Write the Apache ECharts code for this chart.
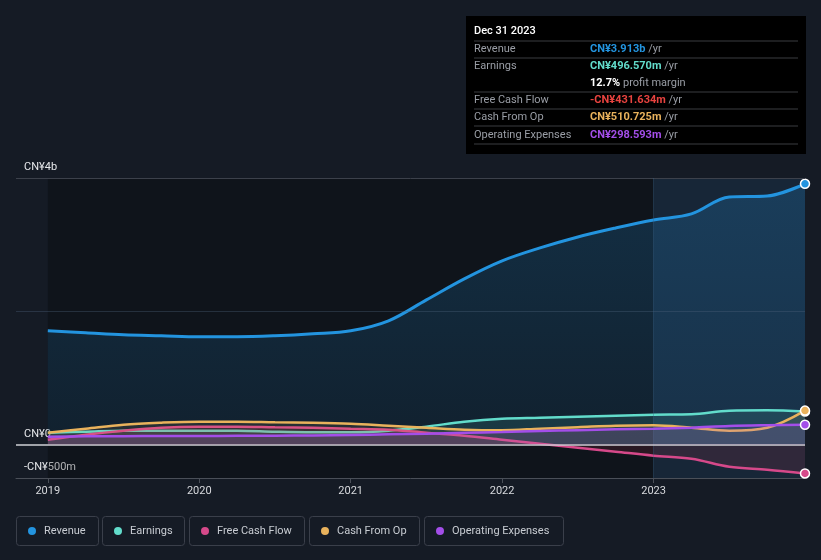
<!DOCTYPE html>
<html>
<head>
<meta charset="utf-8">
<script src="https://cdn.jsdelivr.net/npm/echarts@6/dist/echarts.min.js"></script>
<style>
html,body{margin:0;padding:0;background:#151b25;}
#c{width:821px;height:560px;}
</style>
</head>
<body>
<div id="c"></div>
<script>
const periods = [2019, 2019.25, 2019.5, 2019.75, 2020, 2020.25, 2020.5, 2020.75, 2021, 2021.25, 2021.5, 2021.75, 2022, 2022.25, 2022.5, 2022.75, 2023, 2023.25, 2023.5, 2023.75, 2024];
const revenue = [1708, 1678, 1648, 1633, 1618, 1618, 1633, 1663, 1708, 1858, 2172, 2487, 2757, 2951, 3116, 3251, 3371, 3461, 3715, 3730, 3913];
const earnings = [180, 195, 210, 210, 210, 210, 195, 187, 187, 210, 270, 345, 390, 405, 420, 435, 450, 457, 510, 517, 497];
const freeCashFlow = [75, 150, 210, 255, 270, 270, 262, 255, 240, 225, 180, 135, 75, 15, -45, -105, -165, -210, -330, -375, -432];
const cashFromOp = [180, 240, 300, 330, 345, 345, 337, 330, 315, 285, 255, 225, 217, 240, 262, 285, 292, 255, 210, 255, 511];
const opex = [120, 125, 128, 130, 130, 132, 135, 138, 145, 155, 165, 178, 190, 205, 218, 230, 240, 255, 280, 292, 299];
const yearTicks = [2019, 2020, 2021, 2022, 2023];
const yLabels = {'-500': '-CN¥500m', '0': 'CN¥0', '4000': 'CN¥4b'};
const seriesNames = ['Revenue', 'Earnings', 'Free Cash Flow', 'Cash From Op', 'Operating Expenses'];
const colors = ['#2394df', '#62dccb', '#d6498a', '#e9b25c', '#a34ee9'];
const tipTitle = 'Dec 31 2023';
const tipValues = ['CN¥3.913b', 'CN¥496.570m', '-CN¥431.634m', 'CN¥510.725m', 'CN¥298.593m'];
const tipValueColors = ['#2394df', '#62dccb', '#e8433f', '#e9b25c', '#a34ee9'];
const profitMargin = '12.7%';

const chart = echarts.init(document.getElementById('c'));
const FONT = 'Roboto, "Noto Sans", sans-serif';

function pairs(vals){ return periods.map((p,i)=>[p, vals[i]]); }
const last = periods.length - 1;
function mkLine(name, vals, color, area, z, lw){
  return {
    name, type:'line', data: pairs(vals), smooth: 0.35, z,
    symbol:'circle', showSymbol:true,
    symbolSize:(v,p)=> p.dataIndex===last ? 9 : 0,
    itemStyle:{color, borderColor:'#ffffff', borderWidth:1.5},
    lineStyle:{color, width: lw||2.5},
    areaStyle: area,
    emphasis:{disabled:true}
  };
}

// Tooltip-like panel
const panel = [];
panel.push({type:'rect', shape:{x:466,y:16,width:340,height:138}, style:{fill:'#000000'}});
panel.push({type:'text', x:474, y:31, style:{text:tipTitle, fill:'#ffffff', font:'500 11px '+FONT, verticalAlign:'middle'}});
const rowY = [49, 66, 100, 117, 135];
const sepY = [41, 58, 92, 109, 126, 144];
sepY.forEach(y=>panel.push({type:'line', shape:{x1:474,y1:y,x2:798,y2:y}, style:{stroke:'#3a3c40', lineWidth:1}}));
seriesNames.forEach((n,i)=>{
  panel.push({type:'text', x:474, y:rowY[i], style:{text:n, fill:'#9a9ea6', font:'11px '+FONT, verticalAlign:'middle'}});
  panel.push({type:'text', x:590, y:rowY[i], style:{
    text:'{v|'+tipValues[i]+'}{u| /yr}', verticalAlign:'middle',
    rich:{v:{fill:tipValueColors[i], font:'bold 11px '+FONT}, u:{fill:'#9a9ea6', font:'11px '+FONT}}
  }});
});
panel.push({type:'text', x:590, y:83, style:{
  text:'{v|'+profitMargin+'}{u| profit margin}', verticalAlign:'middle',
  rich:{v:{fill:'#ffffff', font:'bold 11px '+FONT}, u:{fill:'#9a9ea6', font:'11px '+FONT}}
}});

// Legend boxes
const legX = [16, 102, 189, 309, 424];
const legW = [82, 82, 115, 110, 139];
const legend = [];
seriesNames.forEach((n,i)=>{
  legend.push({type:'rect', shape:{x:legX[i]+0.5, y:516.5, width:legW[i], height:29, r:3}, style:{fill:'transparent', stroke:'#3a3f4a', lineWidth:1}});
  legend.push({type:'circle', shape:{cx:legX[i]+16, cy:531, r:4}, style:{fill:colors[i]}});
  legend.push({type:'text', x:legX[i]+28, y:531, style:{text:n, fill:'#c8ccd2', font:'11px '+FONT, verticalAlign:'middle'}});
});

const option = {
  backgroundColor:'#151b25',
  animation:false,
  grid:{left:16, right:16, top:178, bottom:82, containLabel:false},
  xAxis:{
    type:'value', min:2018.79, max:2024,
    axisLine:{onZero:false, show:true, lineStyle:{color:'#4a4f58', width:1}},
    axisTick:{show:true, customValues:yearTicks, length:5, lineStyle:{color:'#4a4f58'}},
    axisLabel:{customValues:yearTicks, color:'#d8dade', fontSize:11, fontFamily:FONT, margin:8, formatter:v=>String(Math.round(v))},
    splitLine:{show:false}
  },
  yAxis:{
    type:'value', min:-500, max:4000, interval:500,
    axisLine:{show:false}, axisTick:{show:false}, splitLine:{show:false},
    axisLabel:{inside:true, showMinLabel:true, showMaxLabel:true, margin:8,
      color:'#e6e8eb', fontSize:11, fontFamily:FONT, verticalAlign:'bottom', padding:[0,0,5,0],
      formatter:v=> yLabels[String(v)] || ''}
  },
  graphic: panel.concat(legend),
  series:[
    {
      name:'bg', type:'line', data:[[2019,0]], symbol:'none', lineStyle:{width:0}, z:0, silent:true,
      markArea:{silent:true, data:[
        [{xAxis:2019, itemStyle:{color:'rgba(0,0,0,0.25)'}}, {xAxis:2023}],
        [{xAxis:2023, itemStyle:{color:'rgba(35,100,150,0.16)'}}, {xAxis:2024}]
      ]}
    },
    mkLine('Revenue', revenue, colors[0], {color:new echarts.graphic.LinearGradient(0,0,0,1,[{offset:0,color:'rgba(35,148,223,0.30)'},{offset:1,color:'rgba(35,148,223,0.14)'}])}, 2, 3),
    mkLine('Earnings', earnings, colors[1], {color:'rgba(98,220,203,0.18)'}, 3),
    mkLine('Free Cash Flow', freeCashFlow, colors[2], {color:'rgba(190,50,80,0.22)'}, 4),
    mkLine('Cash From Op', cashFromOp, colors[3], {color:'rgba(233,178,92,0.14)'}, 5),
    mkLine('Operating Expenses', opex, colors[4], {color:'rgba(163,78,233,0.2)'}, 6),
    {
      name:'grid', type:'line', data:[[2019,0]], symbol:'none', lineStyle:{width:0}, z:7, silent:true,
      markLine:{silent:true, symbol:'none', label:{show:false}, data:[
        {yAxis:4000, lineStyle:{color:'#3c414b', width:1, type:'solid'}},
        {yAxis:2000, lineStyle:{color:'rgba(80,100,125,0.35)', width:1, type:'solid'}},
        {xAxis:2023, lineStyle:{color:'rgba(60,100,140,0.35)', width:1, type:'solid'}},
        {yAxis:0, lineStyle:{color:'#cfd2d6', width:1.5, type:'solid'}}
      ]}
    }
  ]
};
chart.setOption(option);
</script>
</body>
</html>
